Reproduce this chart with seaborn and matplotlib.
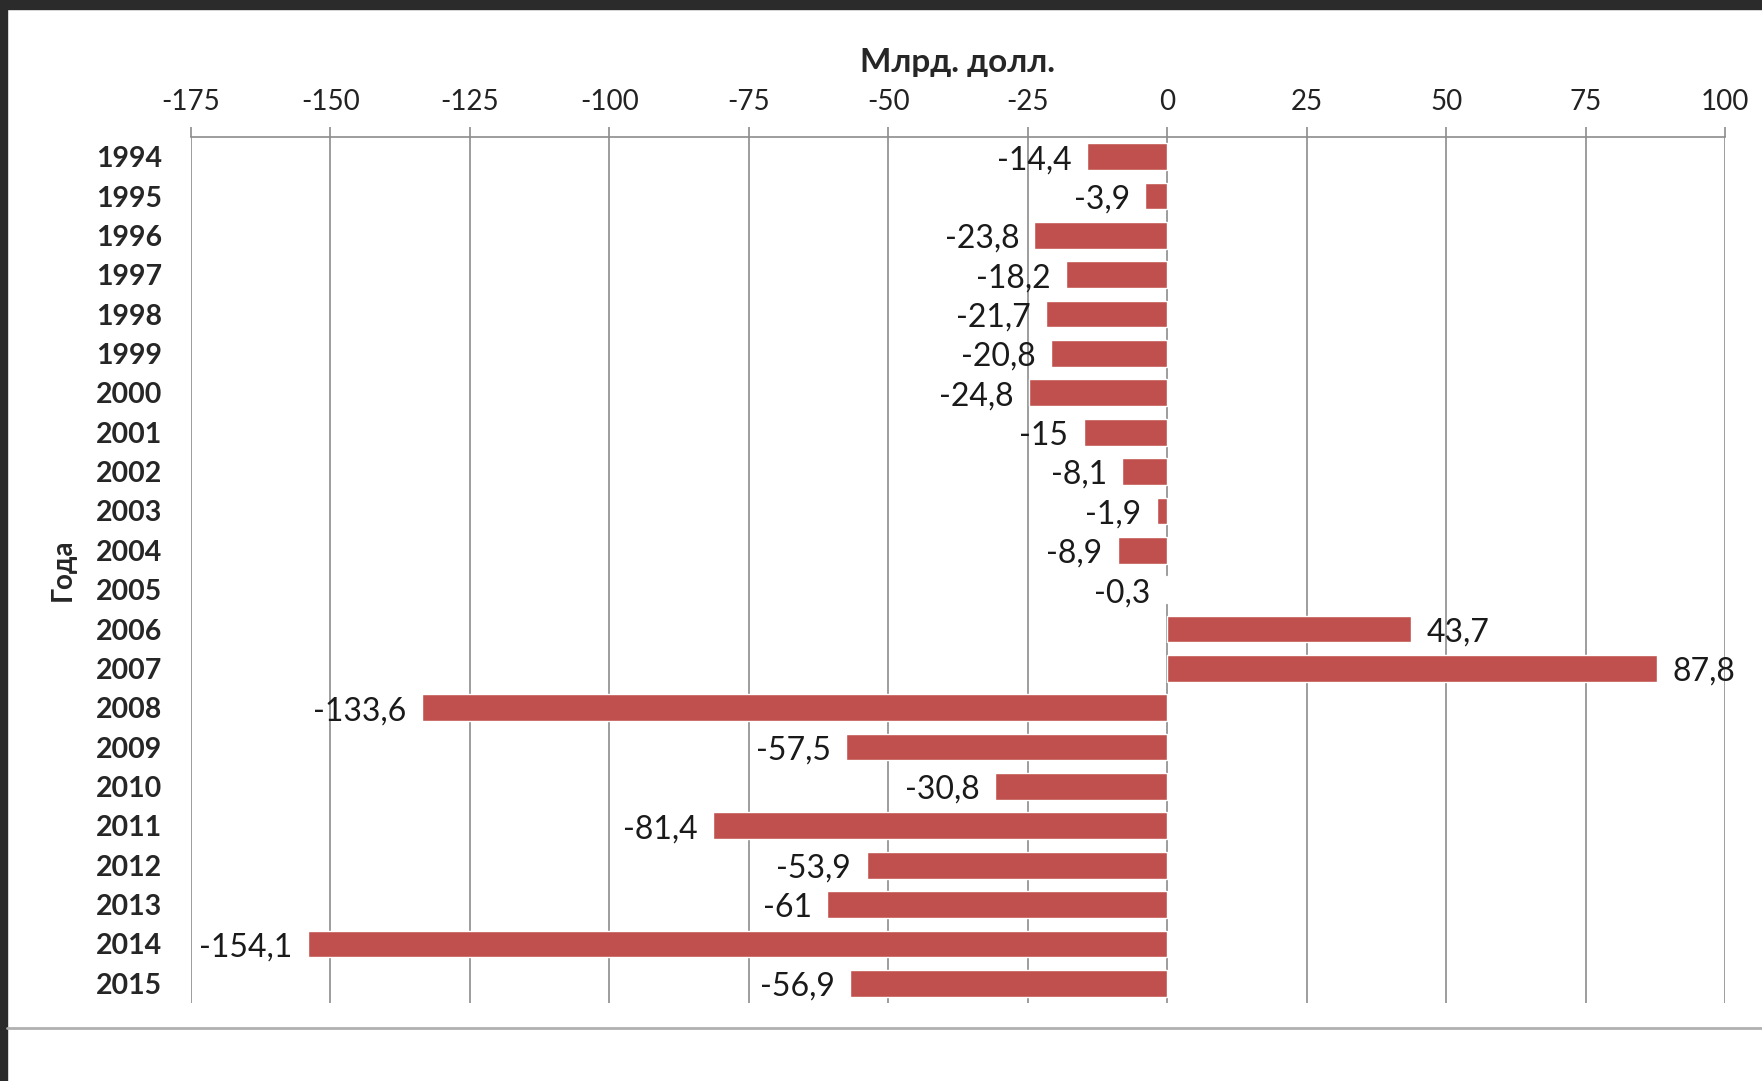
import seaborn as sns
import matplotlib.pyplot as plt
import pandas as pd
from matplotlib.patches import Rectangle
from matplotlib.lines import Line2D

years = ['1994', '1995', '1996', '1997', '1998', '1999', '2000', '2001', '2002', '2003', '2004',
         '2005', '2006', '2007', '2008', '2009', '2010', '2011', '2012', '2013', '2014', '2015']
values = [-14.4, -3.9, -23.8, -18.2, -21.7, -20.8, -24.8, -15, -8.1, -1.9, -8.9,
          -0.3, 43.7, 87.8, -133.6, -57.5, -30.8, -81.4, -53.9, -61, -154.1, -56.9]
x_ticks = [-175, -150, -125, -100, -75, -50, -25, 0, 25, 50, 75, 100]

df = pd.DataFrame({'year': years, 'value': values})

sns.set_style('white')
plt.rcParams['font.family'] = ['Lato', 'DejaVu Sans']
plt.rcParams['axes.unicode_minus'] = False

fig = plt.figure(figsize=(17.62, 10.81), dpi=100)
ax = fig.add_axes([0.1084, 0.0722, 0.8706, 0.8011])

sns.barplot(data=df, x='value', y='year', orient='h', color='#C0504D', saturation=1,
            width=0.68, ax=ax)

# data labels with comma decimal separator
labels = [f'{v:g}'.replace('.', ',') for v in values]
texts = ax.bar_label(ax.containers[0], labels=labels, padding=11, fontsize=23, color='#1a1a1a')
for t in texts:
    # nudge a bit lower, like the original
    t.xyann = (t.xyann[0], -2.5)

ax.set_xlim(-175, 100)
ax.set_xticks(x_ticks)
ax.xaxis.tick_top()
ax.xaxis.set_label_position('top')
ax.tick_params(axis='x', direction='out', length=7, width=1.2, color='#8c8c8c',
               labelsize=20, pad=9, labelcolor='#222222')
ax.tick_params(axis='y', length=0, labelsize=20.5, pad=21)
for lab in ax.get_yticklabels():
    lab.set_fontweight('bold')

ax.grid(axis='x', color='#8c8c8c', linewidth=1.2)
ax.set_axisbelow(True)
for side in ['right', 'bottom', 'left']:
    ax.spines[side].set_visible(False)
ax.spines['top'].set_color('#8c8c8c')
ax.spines['top'].set_linewidth(1.2)

ax.set_xlabel('Млрд. долл.', fontsize=24, fontweight='bold', labelpad=12)
ax.set_ylabel('Года', fontsize=20, fontweight='bold', labelpad=14)

# dark screenshot frame
fig.patches.append(Rectangle((0, 1 - 9 / 1081), 1, 9 / 1081, transform=fig.transFigure,
                             color='#2b2b2b', zorder=0))
fig.patches.append(Rectangle((0, 0), 7 / 1762, 1, transform=fig.transFigure,
                             color='#2b2b2b', zorder=0))
fig.lines.append(Line2D([7 / 1762, 1], [1 - 1028 / 1081] * 2, transform=fig.transFigure,
                        color='#b0b0b0', linewidth=2))

plt.savefig('out.png', dpi=100)
